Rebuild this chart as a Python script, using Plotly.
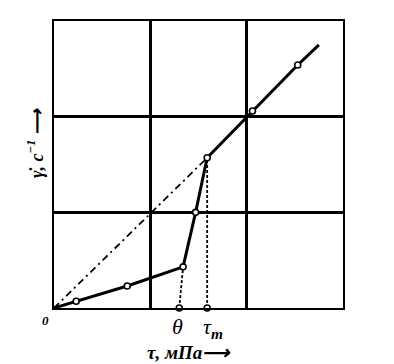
import plotly.graph_objects as go

# data (axis units: 3 grid cells each way)
tau = [0.0, 0.23, 0.76, 1.34, 1.47, 1.59, 2.06, 2.53, 2.75]
gamma = [0.0, 0.07, 0.23, 0.43, 1.0, 1.57, 2.06, 2.54, 2.75]
marker_idx = [1, 2, 3, 4, 5, 6, 7]
theta_x = 1.30
tau_m_x = 1.59
grid_vals = [1, 2]

fig = go.Figure()

# dash-dot line from origin to tau_m point
fig.add_trace(go.Scatter(x=[tau[0], tau[5]], y=[gamma[0], gamma[5]], mode="lines",
                         line=dict(color="black", width=1.8, dash="7px,4px,2px,4px"),
                         hoverinfo="skip", cliponaxis=False))
# dotted projections
fig.add_trace(go.Scatter(x=[theta_x, tau[3]], y=[0, gamma[3]], mode="lines",
                         line=dict(color="black", width=1.8, dash="3px,2px"), cliponaxis=False))
fig.add_trace(go.Scatter(x=[tau_m_x, tau[5]], y=[0, gamma[5]], mode="lines",
                         line=dict(color="black", width=1.8, dash="3px,2px"), cliponaxis=False))
# main curve
fig.add_trace(go.Scatter(x=tau, y=gamma, mode="lines",
                         line=dict(color="black", width=3), cliponaxis=False))
# markers
fig.add_trace(go.Scatter(x=[tau[i] for i in marker_idx] + [theta_x, tau_m_x],
                         y=[gamma[i] for i in marker_idx] + [0, 0], mode="markers",
                         marker=dict(symbol="circle", size=6, color="white",
                                     line=dict(color="black", width=1.6)),
                         cliponaxis=False))

serif = "Liberation Serif"
W, H = 394, 364
L, R, T, B = 54, 51, 21, 56
pw, ph = W - L - R, H - T - B


def px(x):
    return (x - L) / pw


def py(y):
    return (H - B - y) / ph


ann = [
    dict(x=0, y=0, xref="x", yref="y", text="<b><i>0</i></b>", showarrow=False,
         xanchor="center", yanchor="middle",
         xshift=-9, yshift=-12, font=dict(family=serif, size=13, color="black")),
    dict(x=theta_x, y=0, xref="x", yref="y", text="<i>θ</i>", showarrow=False,
         xanchor="center", yanchor="middle",
         yshift=-18, xshift=-2, font=dict(family=serif, size=22, color="black")),
    dict(x=tau_m_x, y=0, xref="x", yref="y", text="<i>τ<sub><b>m</b></sub></i>", showarrow=False,
         xanchor="center", yanchor="middle",
         yshift=-20, xshift=6, font=dict(family=serif, size=22, color="black")),
    dict(x=px(189), y=py(352), xref="paper", yref="paper", text="<b><i>τ, мПа⟶</i></b>",
         showarrow=False, xanchor="center", yanchor="middle",
         font=dict(family=serif, size=19, color="black")),
    dict(x=px(35), y=py(143), xref="paper", yref="paper",
         text="<b><i>γ̇, с<sup>−1</sup> ⟶</i></b>", xanchor="center", yanchor="middle",
         showarrow=False, textangle=-90, font=dict(family=serif, size=18, color="black")),
]

fig.update_layout(
    width=W, height=H, margin=dict(l=L, r=R, t=T, b=B),
    paper_bgcolor="white", plot_bgcolor="white", showlegend=False,
    annotations=ann,
)
axis_common = dict(range=[0, 3], showgrid=True, gridcolor="black", gridwidth=2.5,
                   tickvals=grid_vals, showticklabels=False, ticks="", zeroline=False,
                   showline=True, linecolor="black", linewidth=2, mirror=True, fixedrange=True)
fig.update_xaxes(**axis_common)
fig.update_yaxes(**axis_common)

fig.write_html("out.html")
